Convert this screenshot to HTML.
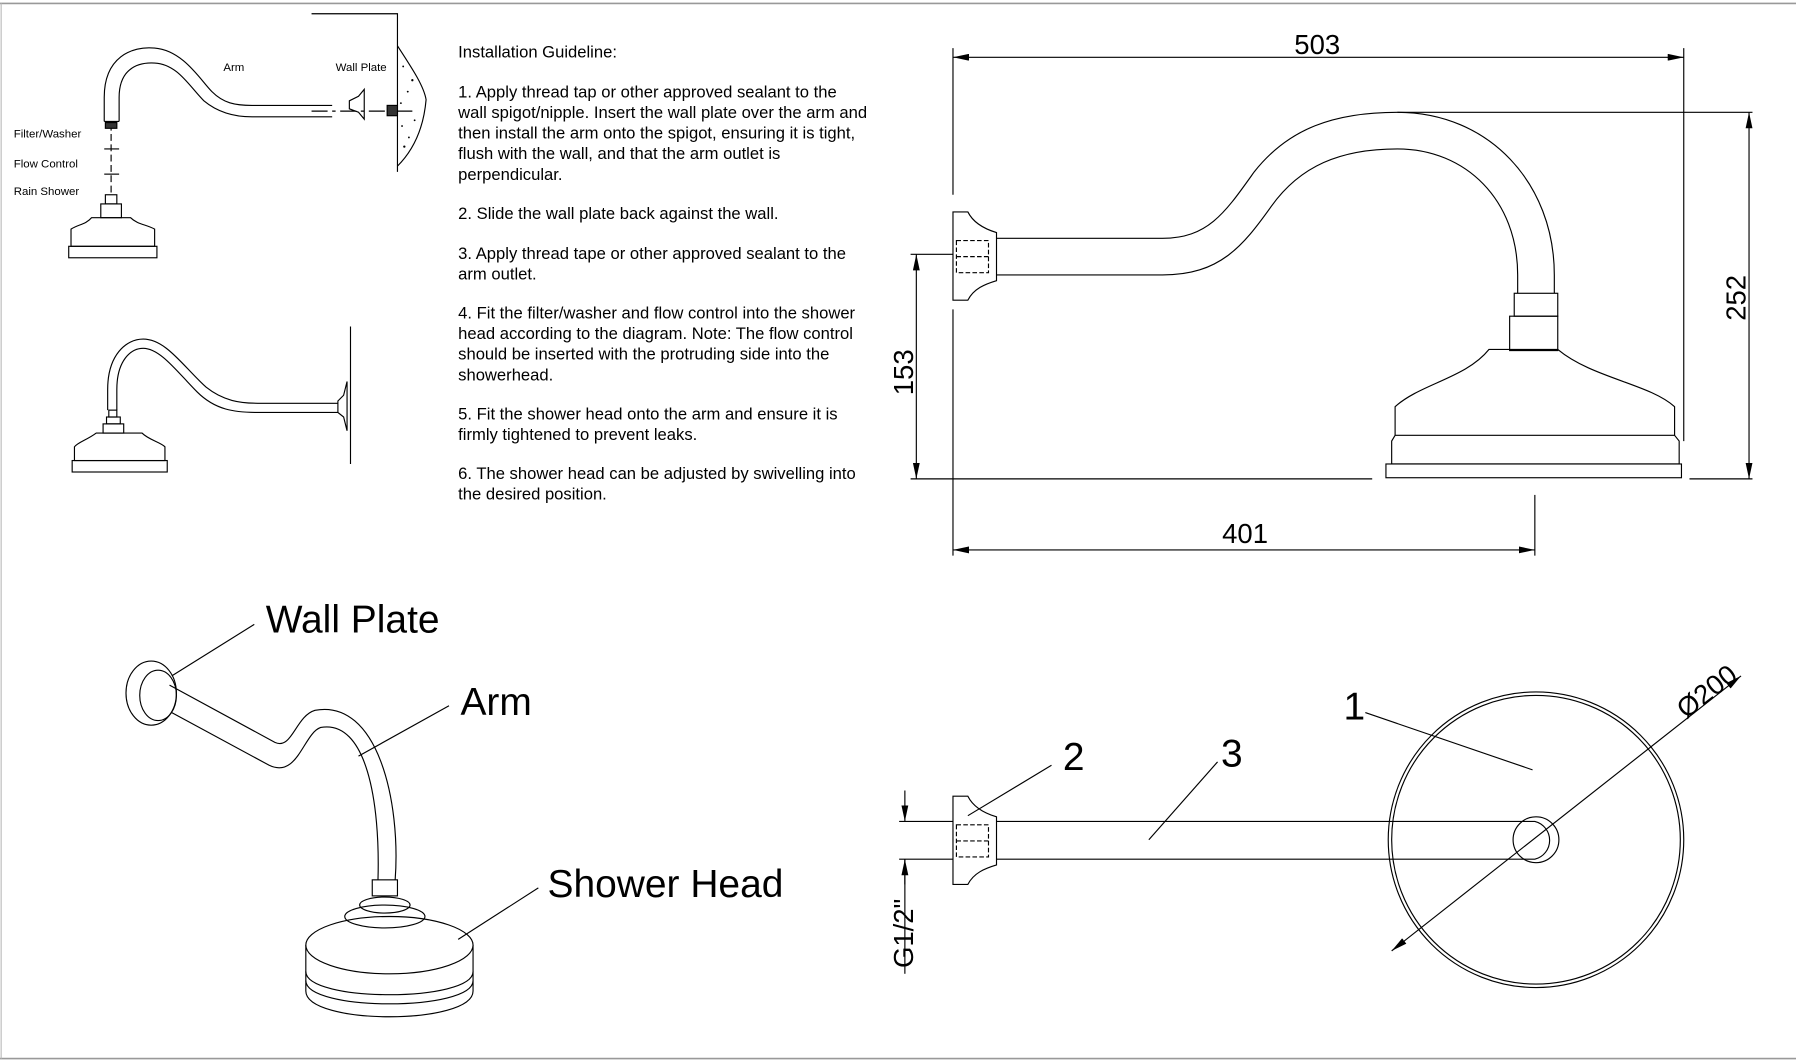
<!DOCTYPE html>
<html><head><meta charset="utf-8"><style>
html,body{margin:0;padding:0;background:#fff;}
svg{display:block;}
text{font-family:"Liberation Sans",sans-serif;fill:#000;}
</style></head><body>
<svg width="1796" height="1062" viewBox="0 0 1568 927" preserveAspectRatio="none" xmlns="http://www.w3.org/2000/svg">
<defs>
<marker id="ar" viewBox="0 0 14 6" refX="14" refY="3" markerWidth="14" markerHeight="6" orient="auto-start-reverse" markerUnits="userSpaceOnUse"><path d="M0,0 L14,3 L0,6 z" fill="#000"/></marker>
</defs>
<rect width="1568" height="927" fill="#fff"/>
<line x1="0" y1="3" x2="1568" y2="3" stroke="#999" stroke-width="1.5"/>
<line x1="0" y1="924" x2="1568" y2="924" stroke="#999" stroke-width="1.5"/>
<line x1="1" y1="3" x2="1" y2="924" stroke="#bbb" stroke-width="1"/>

<g fill="none" stroke="#000" stroke-width="1">
<!-- top-left small diagram -->
<path d="M91,106 L91,85 C91,50 115,40 135,42 C160,44 175,70 185,80 C195,90 205,92 220,92 L290,92"/>
<path d="M104,106 L104,85 C104,62 118,54 135,55 C155,56 165,75 178,88 C190,98 205,102 220,102 L290,102"/>
<line x1="91" y1="106" x2="104" y2="106"/>
<path d="M272,97 L360,97" stroke-dasharray="14,4,3,4"/>
<path d="M305,88 L313,84 L318,78 L318,104 L313,98 L305,95 Z"/>
<path d="M272,12 L347,12 L347,150"/>
<path d="M347,40 C360,60 370,75 372,87 C370,110 362,130 347,145"/>
<g fill="#000" stroke="none">
<circle cx="352" cy="58" r="0.8"/><circle cx="356" cy="80" r="0.8"/><circle cx="360" cy="70" r="1"/><circle cx="351" cy="110" r="0.8"/><circle cx="357" cy="120" r="0.8"/><circle cx="353" cy="128" r="1"/><circle cx="362" cy="105" r="0.8"/><circle cx="350" cy="90" r="0.8"/>
</g>
<rect x="338" y="92" width="9" height="9" fill="#333"/>
<line x1="97" y1="108" x2="97" y2="170" stroke-dasharray="6,3"/>
<rect x="92" y="107" width="10" height="5" fill="#333"/>
<line x1="91" y1="130" x2="104" y2="130"/>
<line x1="91" y1="152" x2="104" y2="152"/>
<rect x="92" y="170" width="10" height="8"/>
<rect x="88" y="178" width="18" height="12"/>
<path d="M88,190 L80,190 C75,196 68,196 62,200 L62,215 L135,215 L135,200 C128,196 120,196 114,190 Z"/>
<rect x="60" y="215" width="77" height="10"/>

<!-- second small diagram -->
<path d="M94,358 L94,340 C94,310 110,296 125,296 C145,296 160,320 180,338 C195,350 210,352 225,352 L295,352"/>
<path d="M102,358 L102,340 C102,315 114,304 125,304 C140,304 155,325 172,342 C188,358 205,360 225,360 L295,360"/>
<rect x="95" y="358" width="7" height="6"/>
<path d="M295,350 L300,345 L303,333 L303,376 L300,364 L295,360 Z"/>
<line x1="306" y1="285" x2="306" y2="405"/>
<rect x="93" y="364" width="12" height="6"/>
<rect x="90" y="370" width="18" height="8"/>
<path d="M90,378 L84,378 C76,384 68,386 65,390 L65,402 L144,402 L144,390 C140,386 130,384 124,378 Z"/>
<rect x="63" y="402" width="83" height="10"/>

<!-- top right drawing -->
<line x1="832" y1="50" x2="1470" y2="50" marker-start="url(#ar)" marker-end="url(#ar)"/>
<line x1="832" y1="42" x2="832" y2="170"/>
<line x1="1470" y1="42" x2="1470" y2="385"/>
<path d="M832,185 L845,185 C850,195 860,200 870,203 L870,245 C860,248 850,252 845,262 L832,262 Z"/>
<rect x="835" y="210" width="28" height="28" stroke-dasharray="4,2"/>
<line x1="835" y1="224" x2="863" y2="224" stroke-dasharray="4,2"/>
<path d="M870,208 L1015,208 C1055,208 1070,185 1095,150 C1125,112 1165,98 1220,98 C1300,98 1357,160 1357,240 L1357,256"/>
<path d="M870,240 L1015,240 C1065,240 1085,215 1110,180 C1135,145 1170,130 1220,130 C1280,130 1325,175 1325,240 L1325,256"/>
<line x1="1220" y1="98" x2="1530" y2="98"/>
<rect x="1322" y="256" width="38" height="20"/>
<rect x="1318" y="276" width="42" height="30"/>
<path d="M1300,305 L1360,305 C1390,330 1440,335 1462,355 L1462,380 L1466,385 L1466,405 L1215,405 L1215,385 L1218,380 L1218,355 C1240,335 1280,330 1300,305 Z"/>
<line x1="1218" y1="380" x2="1462" y2="380"/>
<rect x="1210" y="405" width="258" height="12"/>
<line x1="1527" y1="98" x2="1527" y2="418" marker-start="url(#ar)" marker-end="url(#ar)"/>
<line x1="795" y1="418" x2="1198" y2="418"/>
<line x1="1475" y1="418" x2="1530" y2="418"/>
<line x1="800" y1="222" x2="800" y2="418" marker-start="url(#ar)" marker-end="url(#ar)"/>
<line x1="795" y1="222" x2="832" y2="222"/>
<line x1="832" y1="270" x2="832" y2="485"/>
<line x1="1340" y1="432" x2="1340" y2="485"/>
<line x1="832" y1="480" x2="1340" y2="480" marker-start="url(#ar)" marker-end="url(#ar)"/>

<!-- bottom-left 3D -->
<ellipse cx="132" cy="605" rx="22" ry="28"/>
<ellipse cx="138" cy="607" rx="16" ry="22"/>
<path d="M148,598 L240,648 C255,655 258,625 275,620 C330,610 350,700 345,768"/>
<path d="M150,622 L235,668 C260,680 265,640 280,635 C320,628 332,700 330,768"/>
<line x1="150" y1="590" x2="222" y2="545"/>
<line x1="313" y1="660" x2="392" y2="616"/>
<rect x="325" y="768" width="22" height="14"/>
<ellipse cx="336" cy="790" rx="22" ry="7"/>
<ellipse cx="336" cy="800" rx="35" ry="10"/>
<ellipse cx="340" cy="825" rx="73" ry="25"/>
<path d="M267,825 L267,865 C267,895 413,895 413,865 L413,825"/>
<path d="M267,848 C267,875 413,875 413,848"/>
<path d="M267,856 C267,883 413,883 413,856"/>
<line x1="400" y1="820" x2="470" y2="775"/>

<!-- bottom right -->
<path d="M832,695 L845,695 C850,705 860,710 870,713 L870,755 C860,758 850,762 845,772 L832,772 Z"/>
<rect x="835" y="720" width="28" height="28" stroke-dasharray="4,2"/>
<line x1="835" y1="734" x2="863" y2="734" stroke-dasharray="4,2"/>
<path d="M870,717 L1340,717 A17,17 0 0 1 1340,750 L870,750"/>
<circle cx="1341" cy="733" r="129"/>
<circle cx="1341" cy="733" r="126"/>
<circle cx="1341" cy="733" r="20"/>
<line x1="1520" y1="590" x2="1215" y2="830" marker-start="url(#ar)" marker-end="url(#ar)"/>
<line x1="1192" y1="622" x2="1338" y2="672"/>
<line x1="918" y1="668" x2="845" y2="712"/>
<line x1="1063" y1="665" x2="1003" y2="733"/>
<line x1="790" y1="690" x2="790" y2="717" marker-end="url(#ar)"/>
<line x1="790" y1="772" x2="790" y2="750" marker-end="url(#ar)"/>
<line x1="790" y1="750" x2="790" y2="850"/>
<line x1="785" y1="717" x2="832" y2="717"/>
<line x1="785" y1="750" x2="832" y2="750"/>
</g>

<g font-size="10">
<text x="195" y="62">Arm</text>
<text x="293" y="62">Wall Plate</text>
<text x="12" y="120">Filter/Washer</text>
<text x="12" y="146">Flow Control</text>
<text x="12" y="170">Rain Shower</text>
</g>
<g font-size="14.5">
<text x="400" y="50">Installation Guideline:</text>
<text x="400" y="85">1.  Apply thread tap or other approved sealant to the</text>
<text x="400" y="103">wall spigot/nipple. Insert the wall plate over the arm and</text>
<text x="400" y="121">then install the arm onto the spigot, ensuring it is tight,</text>
<text x="400" y="139">flush with the wall, and that the arm outlet is</text>
<text x="400" y="157">perpendicular.</text>
<text x="400" y="191">2.  Slide the wall plate back against the wall.</text>
<text x="400" y="226">3.  Apply thread tape or other approved sealant to the</text>
<text x="400" y="244">arm outlet.</text>
<text x="400" y="278">4.  Fit the filter/washer and flow control into the shower</text>
<text x="400" y="296">head according to the diagram. Note: The flow control</text>
<text x="400" y="314">should be inserted with the protruding side into the</text>
<text x="400" y="332">showerhead.</text>
<text x="400" y="366">5.  Fit the shower head onto the arm and ensure it is</text>
<text x="400" y="384">firmly tightened to prevent leaks.</text>
<text x="400" y="418">6.  The shower head can be adjusted by swivelling into</text>
<text x="400" y="436">the desired position.</text>
</g>
<g font-size="24">
<text x="1130" y="47">503</text>
<text x="1067" y="474">401</text>
<text transform="translate(1524,280) rotate(-90)">252</text>
<text transform="translate(797,345) rotate(-90)">153</text>
<text transform="translate(797,845) rotate(-90)">G1/2"</text>
<text transform="translate(1472,628) rotate(-38)">Ø200</text>
</g>
<g font-size="34">
<text x="232" y="552">Wall Plate</text>
<text x="402" y="624">Arm</text>
<text x="478" y="783">Shower Head</text>
<text x="1173" y="628">1</text>
<text x="928" y="672">2</text>
<text x="1066" y="669">3</text>
</g>
</svg>
</body></html>
